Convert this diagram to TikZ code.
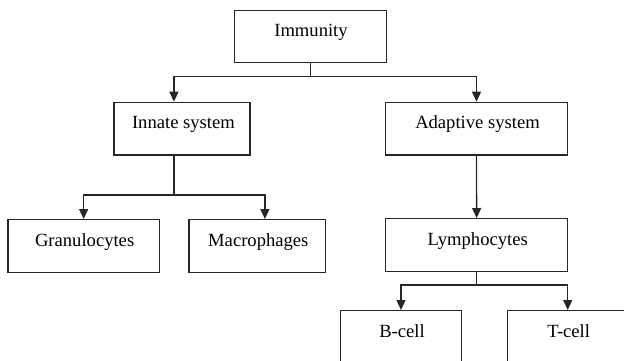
\documentclass[tikz,border=0pt]{standalone}
\usepackage{fontspec}
\setmainfont{Liberation Serif}
\usetikzlibrary{arrows.meta}
\begin{document}
\begin{tikzpicture}[x=1pt,y=-1pt,
  box/.style={draw=black!85, line width=1.3pt, inner ysep=0pt, inner xsep=0pt, anchor=north west,
    text height=26.5pt, text depth=26pt, font=\fontsize{18.6}{22}\selectfont},
  link/.style={draw=black!85, line width=1.3pt},
  arr/.style={link, -{Triangle[length=10pt,width=9pt]}}]
\useasboundingbox (0,0) rectangle (624,360);
\clip (0,0) rectangle (624,360);

% boxes
\node[box, minimum width=152.2pt] (imm) at (233.5,9.5)  {\hspace*{1.5pt}Immunity};
\node[box, minimum width=136pt]   (inn) at (113.3,101.7) {\hspace*{3pt}Innate system};
\node[box, minimum width=181.7pt] (ada) at (385,101.7)  {\hspace*{2pt}Adaptive system};
\node[box, minimum width=151.4pt] (gra) at (7.3,219)    {\hspace*{2pt}Granulocytes};
\node[box, minimum width=136.7pt] (mac) at (188.3,219)  {\hspace*{2pt}Macrophages};
\node[box, minimum width=182pt]   (lym) at (385,218)    {\hspace*{2pt}Lymphocytes};
\node[box, minimum width=120.7pt] (bce) at (340,310)    {\hspace*{2pt}B-cell};
\node[box, minimum width=120.7pt] (tce) at (506.7,310)  {\hspace*{2pt}T-cell};

% connectors
\draw[link] (imm.south) -- ++(0,13.3) coordinate (j1);
\draw[arr] (j1) -| ([xshift=-8pt]inn.north);
\draw[arr] (j1) -| (ada.north);
\draw[link] ([xshift=-8pt]inn.south) -- ++(0,39.4) coordinate (j2);
\draw[arr] (j2) -| (gra.north);
\draw[arr] (j2) -| ([xshift=7.6pt]mac.north);
\draw[arr] (ada.south) -- (lym.north);
\draw[link] (lym.south) -- ++(0,13.3) coordinate (j3);
\draw[arr] (j3) -| (bce.north);
\draw[arr] (j3) -| (tce.north);
\end{tikzpicture}
\end{document}
